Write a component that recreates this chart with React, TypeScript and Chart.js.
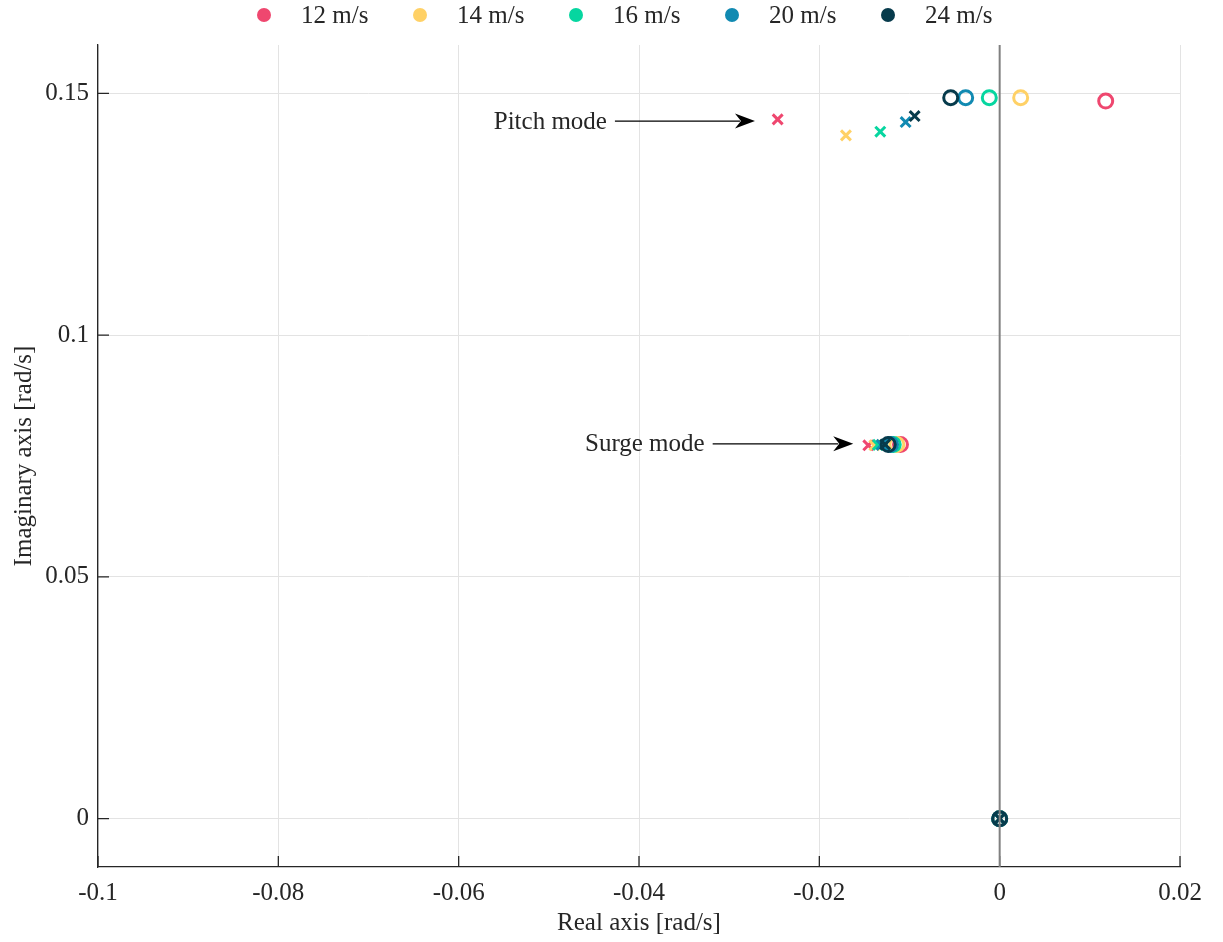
import React, { useEffect, useRef } from 'react';
import { Chart, registerables } from 'chart.js';

Chart.register(...registerables);

// Wind speeds and their colours
const speeds = ['12 m/s', '14 m/s', '16 m/s', '20 m/s', '24 m/s'];
const palette = ['#EF476F', '#FFD166', '#06D6A0', '#118AB2', '#073B4C'];

// Pitch mode: zeros (o) and poles (x), real / imaginary parts [rad/s]
const pitchZeroRe = [0.01176, 0.00233, -0.00115, -0.00377, -0.00543];
const pitchZeroIm = [0.14841, 0.14911, 0.14911, 0.14911, 0.14911];
const pitchPoleRe = [-0.02462, -0.01705, -0.01324, -0.01043, -0.00943];
const pitchPoleIm = [0.14462, 0.14131, 0.14208, 0.14406, 0.14531];

// Surge mode: zeros (o) and poles (x)
const surgeZeroRe = [-0.011, -0.0114, -0.0118, -0.0121, -0.01236];
const surgeZeroIm = [0.07738, 0.07738, 0.07738, 0.07738, 0.07738];
const surgePoleRe = [-0.01457, -0.0139, -0.0135, -0.0131, -0.0127];
const surgePoleIm = [0.0772, 0.0772, 0.0773, 0.0773, 0.0774];

// Rigid-body roots at the origin
const rigidRe = [0, 0, 0, 0, 0];
const rigidIm = [0, 0, 0, 0, 0];

// Axis ticks
const xTicks = [-0.1, -0.08, -0.06, -0.04, -0.02, 0, 0.02];
const xTickLabels = ['-0.1', '-0.08', '-0.06', '-0.04', '-0.02', '0', '0.02'];
const yTicks = [0, 0.05, 0.1, 0.15];
const yTickLabels = ['0', '0.05', '0.1', '0.15'];

// Mode annotations: label and arrow from/to in data units
const noteText = ['Pitch mode', 'Surge mode'];
const noteFromX = [-0.04267, -0.03183];
const noteToX = [-0.02714, -0.01624];
const noteY = [0.14427, 0.07752];

const FONT = "'Liberation Serif', 'Times New Roman', serif";
const FONT_SIZE = 25;
const INK = '#262626';

const datasets: any[] = [];
speeds.forEach((name, i) => {
  datasets.push({
    label: name + ' zeros',
    data: [
      { x: pitchZeroRe[i], y: pitchZeroIm[i] },
      { x: surgeZeroRe[i], y: surgeZeroIm[i] },
      { x: rigidRe[i], y: rigidIm[i] },
    ],
    pointStyle: 'circle',
    pointRadius: 7,
    pointHoverRadius: 7,
    pointBorderWidth: 3,
    pointBorderColor: palette[i],
    pointBackgroundColor: 'rgba(0,0,0,0)',
    showLine: false,
    order: 2 * (speeds.length - 1 - i) + 1,
  });
  datasets.push({
    label: name + ' poles',
    data: [
      { x: pitchPoleRe[i], y: pitchPoleIm[i] },
      { x: surgePoleRe[i], y: surgePoleIm[i] },
      { x: rigidRe[i], y: rigidIm[i] },
    ],
    pointStyle: 'crossRot',
    pointRadius: 7,
    pointHoverRadius: 7,
    pointBorderWidth: 3,
    pointBorderColor: palette[i],
    pointBackgroundColor: palette[i],
    showLine: false,
    order: 2 * (speeds.length - 1 - i),
  });
});

const overlay = {
  id: 'overlay',
  beforeDatasetsDraw(chart: any) {
    const { ctx, chartArea, scales } = chart;
    const len = 11;
    ctx.save();
    ctx.strokeStyle = INK;
    ctx.lineWidth = 1.3;
    ctx.beginPath();
    xTicks.forEach((v) => {
      const px = scales.x.getPixelForValue(v);
      ctx.moveTo(px, chartArea.bottom);
      ctx.lineTo(px, chartArea.bottom - len);
    });
    yTicks.forEach((v) => {
      const py = scales.y.getPixelForValue(v);
      ctx.moveTo(chartArea.left, py);
      ctx.lineTo(chartArea.left + len, py);
    });
    ctx.stroke();
    ctx.restore();
  },
  afterDatasetsDraw(chart: any) {
    const { ctx, chartArea, scales } = chart;
    ctx.save();
    // imaginary axis line at Re = 0
    const x0 = scales.x.getPixelForValue(0);
    ctx.strokeStyle = '#808080';
    ctx.lineWidth = 2;
    ctx.beginPath();
    ctx.moveTo(x0, chartArea.top);
    ctx.lineTo(x0, chartArea.bottom);
    ctx.stroke();

    // annotations
    noteText.forEach((t, i) => {
      const xa = scales.x.getPixelForValue(noteFromX[i]);
      const xb = scales.x.getPixelForValue(noteToX[i]);
      const y = scales.y.getPixelForValue(noteY[i]);
      const head = 20;
      const half = 7.5;
      ctx.strokeStyle = '#000';
      ctx.fillStyle = '#000';
      ctx.lineWidth = 1.3;
      ctx.beginPath();
      ctx.moveTo(xa, y);
      ctx.lineTo(xb - head + 5, y);
      ctx.stroke();
      ctx.beginPath();
      ctx.moveTo(xb, y);
      ctx.lineTo(xb - head, y - half);
      ctx.lineTo(xb - head + 6, y);
      ctx.lineTo(xb - head, y + half);
      ctx.closePath();
      ctx.fill();
      ctx.font = `${FONT_SIZE}px ${FONT}`;
      ctx.fillStyle = INK;
      ctx.textAlign = 'right';
      ctx.textBaseline = 'middle';
      ctx.fillText(t, xa - 8, y + 1);
    });
    ctx.restore();
  },
  afterDraw(chart: any) {
    const { ctx } = chart;
    ctx.save();
    ctx.font = `${FONT_SIZE}px ${FONT}`;
    ctx.textAlign = 'left';
    ctx.textBaseline = 'middle';
    speeds.forEach((name, i) => {
      const cx = 264 + 156 * i;
      const cy = 15;
      ctx.fillStyle = palette[i];
      ctx.beginPath();
      ctx.arc(cx, cy, 7, 0, Math.PI * 2);
      ctx.fill();
      ctx.fillStyle = INK;
      ctx.fillText(name, cx + 37, cy + 1);
    });
    ctx.restore();
  },
};

export default function App() {
  const ref = useRef<HTMLCanvasElement>(null);

  useEffect(() => {
    const chart = new Chart(ref.current as HTMLCanvasElement, {
      type: 'scatter',
      data: { datasets },
      options: {
        animation: false,
        responsive: true,
        maintainAspectRatio: false,
        devicePixelRatio: 1,
        events: [],
        layout: { padding: { top: 45, right: 43, left: 0, bottom: 0 } },
        plugins: {
          legend: { display: false },
          tooltip: { enabled: false },
        },
        scales: {
          x: {
            type: 'linear',
            min: -0.1,
            max: 0.02,
            afterBuildTicks: (s: any) => {
              s.ticks = xTicks.map((v) => ({ value: v }));
            },
            afterFit: (s: any) => {
              s.height = 75;
              s.paddingLeft = 0;
              s.paddingRight = 0;
            },
            ticks: {
              autoSkip: false,
              maxRotation: 0,
              padding: 11,
              color: INK,
              font: { family: FONT, size: FONT_SIZE },
              callback: (_v: any, i: number) => xTickLabels[i],
            },
            grid: { color: '#e3e3e3', lineWidth: 1, drawTicks: false },
            border: { display: true, color: INK, width: 1.3 },
            title: {
              display: true,
              text: 'Real axis [rad/s]',
              color: INK,
              font: { family: FONT, size: FONT_SIZE },
              padding: { top: 0, bottom: 4 },
            },
          },
          y: {
            type: 'linear',
            min: -0.01,
            max: 0.16,
            afterBuildTicks: (s: any) => {
              s.ticks = yTicks.map((v) => ({ value: v }));
            },
            afterFit: (s: any) => {
              s.width = 98;
              s.paddingTop = 0;
              s.paddingBottom = 0;
            },
            ticks: {
              autoSkip: false,
              padding: 9,
              color: INK,
              font: { family: FONT, size: FONT_SIZE },
              callback: (_v: any, i: number) => yTickLabels[i],
            },
            grid: { color: '#e3e3e3', lineWidth: 1, drawTicks: false },
            border: { display: true, color: INK, width: 1.3 },
            title: {
              display: true,
              text: 'Imaginary axis [rad/s]',
              color: INK,
              font: { family: FONT, size: FONT_SIZE },
              padding: { top: 9, bottom: 0 },
            },
          },
        },
      },
      plugins: [overlay],
    } as any);
    return () => chart.destroy();
  }, []);

  return (
    <div style={{ position: 'absolute', left: 0, top: 0, width: 1223, height: 942, background: '#fff' }}>
      <canvas ref={ref} />
    </div>
  );
}
